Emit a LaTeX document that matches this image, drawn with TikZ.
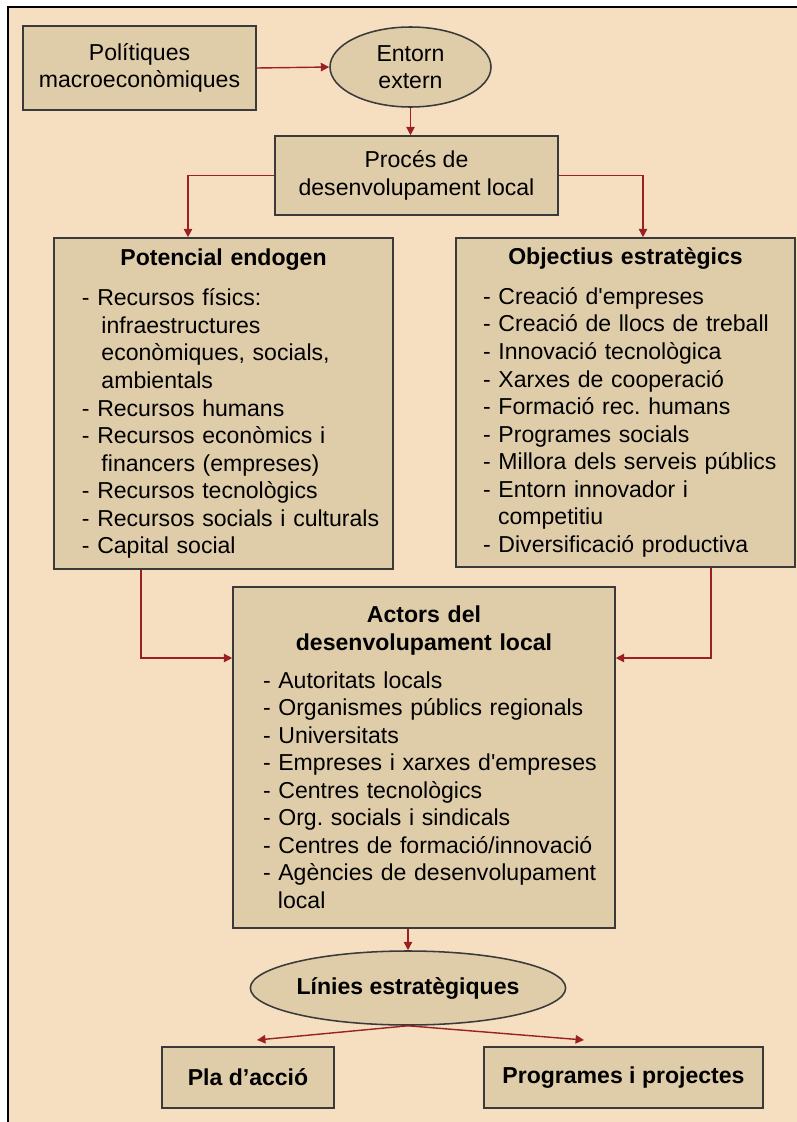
\documentclass[tikz,border=0pt]{standalone}
\usepackage{fontspec}
\setmainfont{Liberation Sans}
\usepackage{tikz}
\usetikzlibrary{shapes.geometric,calc,arrows.meta}
\usepackage{xcolor}
\definecolor{paper}{RGB}{246,223,193}
\definecolor{boxfill}{RGB}{223,205,170}
\definecolor{boxline}{RGB}{58,58,58}
\definecolor{flowred}{RGB}{155,32,36}
\newcommand{\bodyfont}{\fontsize{16.4pt}{19.6pt}\selectfont}
\newcommand{\contind}[1][0.65em]{\hspace*{#1}}
\frenchspacing

\begin{document}
\begin{tikzpicture}[
  box/.style={draw=boxline,fill=boxfill,line width=1.1pt,inner sep=0pt,font=\bodyfont,align=center},
  oval/.style={box,ellipse},
  flow/.style={flowred,line width=1pt,-{Triangle[length=6pt,width=6pt]}}]
  \useasboundingbox (0,0) rectangle (19.925,-28.05);
  \fill[paper] (0.19,-0.17) rectangle (19.925,-28.05);
  \draw[black,line width=1.4pt] (0.19,-28.05) -- (0.19,-0.17) -- (19.925,-0.17);

  \node[box,minimum width=5.825cm,minimum height=2.1cm] (pol) at (3.4875,-1.7) {Polítiques\\macroeconòmiques};
  \node[oval,minimum width=4.025cm,minimum height=2cm] (ent) at (10.2625,-1.675) {Entorn\\extern};
  \node[box,minimum width=7.075cm,minimum height=1.975cm] (proc) at (10.4125,-4.3875) {Procés de\\desenvolupament local};

  \node[box,minimum width=8.475cm,minimum height=8.275cm,text width=7.8cm] (pot) at (5.5875,-10.0875) {%
    {\centering\bfseries Potencial endogen\par}\vspace{0.33cm}
    \raggedright\leftskip=0.36cm
    - Recursos físics:\\ \contind[0.85em]infraestructures\\ \contind[0.85em]econòmiques, socials,\\ \contind[0.85em]ambientals\\
    - Recursos humans\\
    - Recursos econòmics i\\ \contind[0.85em]financers (empreses)\\
    - Recursos tecnològics\\
    - Recursos socials i culturals\\
    - Capital social\par};
  \node[box,minimum width=8.475cm,minimum height=8.225cm,text width=7.8cm] (obj) at (15.6375,-10.0625) {%
    {\centering\bfseries Objectius estratègics\par}\vspace{0.3cm}
    \raggedright\leftskip=0.34cm
    - Creació d\textquotesingle empreses\\
    - Creació de llocs de treball\\
    - Innovació tecnològica\\
    - Xarxes de cooperació\\
    - Formació rec. humans\\
    - Programes socials\\
    - Millora dels serveis públics\\
    - Entorn innovador i\\ \contind competitiu\\
    - Diversificació productiva\par};

  \node[box,minimum width=9.55cm,minimum height=8.525cm,text width=9cm] (act) at (10.6,-18.9375) {%
    {\centering\bfseries Actors del\\desenvolupament local\par}\vspace{0.25cm}
    \raggedright\leftskip=0.475cm
    - Autoritats locals\\
    - Organismes públics regionals\\
    - Universitats\\
    - Empreses i xarxes d\textquotesingle empreses\\
    - Centres tecnològics\\
    - Org. socials i sindicals\\
    - Centres de formació/innovació\\
    - Agències de desenvolupament\\ \contind local\par};

  \node[oval,minimum width=7.75cm,minimum height=1.85cm,font=\bodyfont\bfseries] (lin) at (10.2,-24.7) {Línies estratègiques};
  \node[box,minimum width=4.3cm,minimum height=1.525cm,font=\bodyfont\bfseries] (pla) at (6.2,-26.94) {Pla d’acció};
  \node[box,minimum width=6.975cm,minimum height=1.525cm,font=\bodyfont\bfseries] (prog) at (15.5875,-26.94) {Programes i projectes};
  \coordinate (platip) at (6.425,-26.0);
  \coordinate (progtip) at (14.6,-26.0);

  \draw[flow] (pol.east) -- (ent.west);
  \draw[flow] (ent.south) -- (ent.south |- proc.north);
  \draw[flow] (proc.west) -| ($(pot.north)+(-0.8875,0)$);
  \draw[flow] (proc.east) -| ($(obj.north)+(0.4375,0)$);
  \draw[flow] ($(pot.south)+(-2.0625,0)$) |- ($(act.west)+(0,2.4875)$);
  \draw[flow] ($(obj.south)+(2.1375,0)$) |- ($(act.east)+(0,2.4875)$);
  \draw[flow] (lin.north |- act.south) -- (lin.north);
  \draw[flow] (lin.south) -- (platip);
  \draw[flow] (lin.south) -- (progtip);
\end{tikzpicture}
\end{document}
